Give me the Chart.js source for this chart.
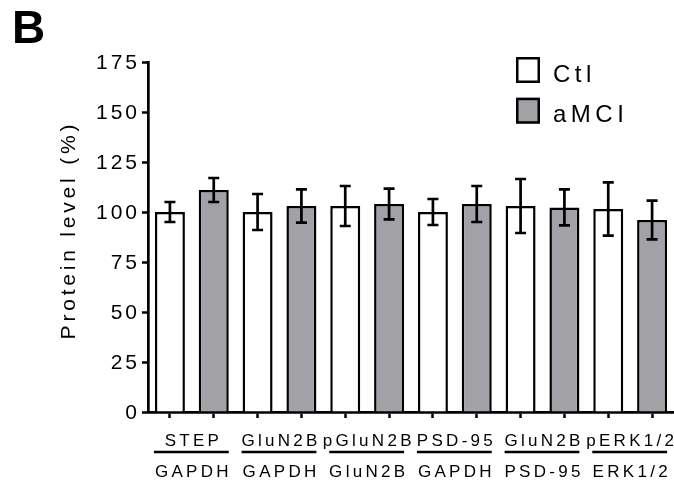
<!DOCTYPE html>
<html>
<head>
<meta charset="utf-8">
<script src="https://cdn.jsdelivr.net/npm/chart.js@4.4.1/dist/chart.umd.min.js"></script>
<style>
  html, body { margin: 0; padding: 0; background: #fff; }
  canvas { display: block; }
</style>
</head>
<body>
<canvas id="chart" width="674" height="483"></canvas>
<script>
// ratio labels (numerator over denominator)
const groupTop = ['STEP', 'GluN2B', 'pGluN2B', 'PSD-95', 'GluN2B', 'pERK1/2'];
const groupBottom = ['GAPDH', 'GAPDH', 'GluN2B', 'GAPDH', 'PSD-95', 'ERK1/2'];

// mean protein level (%) and error (+/-)
const ctlMeans = [100, 100, 103, 100, 103, 101.5];
const ctlErr = [5, 9, 10, 6.5, 13.5, 13.3];
const amciMeans = [111, 103, 104, 104, 102.3, 96];
const amciErr = [6, 8.3, 7.7, 9, 9, 9.7];

const yTicks = [0, 25, 50, 75, 100, 125, 150, 175];

const FONT = "'Liberation Sans', Arial, sans-serif";
const GREY = '#a2a1a6';

// one category per bar, Ctl then aMCI inside each group
const labels = [];
const ctlData = [], ctlErrors = [], amciData = [], amciErrors = [];
groupTop.forEach((t, i) => {
  labels.push(t + '/' + groupBottom[i] + ' Ctl', t + '/' + groupBottom[i] + ' aMCI');
  ctlData.push(ctlMeans[i], null);
  ctlErrors.push(ctlErr[i], null);
  amciData.push(null, amciMeans[i]);
  amciErrors.push(null, amciErr[i]);
});

const spacing = {
  id: 'spacing',
  beforeDraw(chart) {
    chart.ctx.letterSpacing = '3px';
  }
};

const errorBars = {
  id: 'errorBars',
  afterDatasetsDraw(chart) {
    const { ctx } = chart;
    const y = chart.scales.y;
    ctx.save();
    ctx.strokeStyle = '#000';
    ctx.lineWidth = 2.7;
    chart.data.datasets.forEach((ds, di) => {
      chart.getDatasetMeta(di).data.forEach((bar, i) => {
        const v = ds.data[i];
        if (v == null) return;
        const e = ds.errors[i];
        const top = y.getPixelForValue(v + e);
        const bot = y.getPixelForValue(v - e);
        ctx.beginPath();
        ctx.moveTo(bar.x, top);
        ctx.lineTo(bar.x, bot);
        ctx.moveTo(bar.x - 5.5, top);
        ctx.lineTo(bar.x + 5.5, top);
        ctx.moveTo(bar.x - 5.5, bot);
        ctx.lineTo(bar.x + 5.5, bot);
        ctx.stroke();
      });
    });
    ctx.restore();
  }
};

const decorations = {
  id: 'decorations',
  afterDraw(chart) {
    const { ctx } = chart;
    const x = chart.scales.x;
    const y = chart.scales.y;
    ctx.save();
    ctx.fillStyle = '#000';
    ctx.strokeStyle = '#000';

    // panel letter
    ctx.letterSpacing = '0px';
    ctx.font = 'bold 46px ' + FONT;
    ctx.textAlign = 'left';
    ctx.textBaseline = 'alphabetic';
    ctx.fillText('B', 12, 43);

    // y axis title
    ctx.letterSpacing = '3.8px';
    ctx.font = '21px ' + FONT;
    ctx.save();
    ctx.translate(69, (y.top + y.bottom) / 2 - 5);
    ctx.rotate(-Math.PI / 2);
    ctx.textAlign = 'center';
    ctx.textBaseline = 'middle';
    ctx.fillText('Protein level (%)', 1.9, 0);
    ctx.restore();

    // ratio labels under each pair
    ctx.letterSpacing = '3.3px';
    ctx.font = '17px ' + FONT;
    ctx.textAlign = 'center';
    ctx.lineWidth = 2.7;
    groupTop.forEach((t, g) => {
      const a = x.getPixelForValue(2 * g);
      const b = x.getPixelForValue(2 * g + 1);
      const cx = (a + b) / 2;
      ctx.fillText(t, cx + 1.6, 446);
      ctx.beginPath();
      ctx.moveTo(a - 16, 452);
      ctx.lineTo(b + 15, 452);
      ctx.stroke();
      ctx.fillText(groupBottom[g], cx + 1.6, 477);
    });

    // legend
    ctx.letterSpacing = '4.5px';
    ctx.font = '24px ' + FONT;
    ctx.textAlign = 'left';
    ctx.lineWidth = 2.5;
    chart.data.datasets.forEach((ds, i) => {
      const top = 57 + i * 40.7;
      ctx.fillStyle = ds.backgroundColor;
      ctx.fillRect(516, top, 24, 26);
      ctx.strokeRect(517.25, top + 1.25, 21.5, 23.5);
      ctx.fillStyle = '#000';
      ctx.fillText(ds.label, 553, top + 24.5);
    });
    ctx.restore();
  }
};

new Chart(document.getElementById('chart'), {
  type: 'bar',
  data: {
    labels,
    datasets: [
      {
        label: 'Ctl',
        data: ctlData,
        errors: ctlErrors,
        backgroundColor: '#ffffff',
        borderColor: '#000',
        borderWidth: 2.5
      },
      {
        label: 'aMCI',
        data: amciData,
        errors: amciErrors,
        backgroundColor: GREY,
        borderColor: '#000',
        borderWidth: 2.5
      }
    ]
  },
  options: {
    responsive: false,
    animation: false,
    skipNull: true,
    barPercentage: 0.684,
    categoryPercentage: 1,
    layout: { padding: { top: 62, right: 0, bottom: 0, left: 0 } },
    plugins: {
      legend: { display: false },
      tooltip: { enabled: false }
    },
    scales: {
      x: {
        offset: true,
        afterFit: s => { s.height = 71; },
        border: { color: '#000', width: 2.7 },
        grid: {
          offset: false,
          drawOnChartArea: false,
          drawTicks: true,
          tickLength: 6,
          tickColor: '#000',
          tickWidth: 2.5
        },
        ticks: { display: false }
      },
      y: {
        min: 0,
        max: 175,
        afterFit: s => { s.width = 148; },
        afterBuildTicks: s => { s.ticks = yTicks.map(v => ({ value: v })); },
        border: { color: '#000', width: 2.7 },
        grid: {
          drawOnChartArea: false,
          drawTicks: true,
          tickLength: 6,
          tickColor: '#000',
          tickWidth: 2.5
        },
        ticks: {
          color: '#000',
          padding: 2,
          labelOffset: 1.5,
          font: { family: FONT, size: 21 }
        }
      }
    }
  },
  plugins: [spacing, errorBars, decorations]
});
</script>
</body>
</html>
